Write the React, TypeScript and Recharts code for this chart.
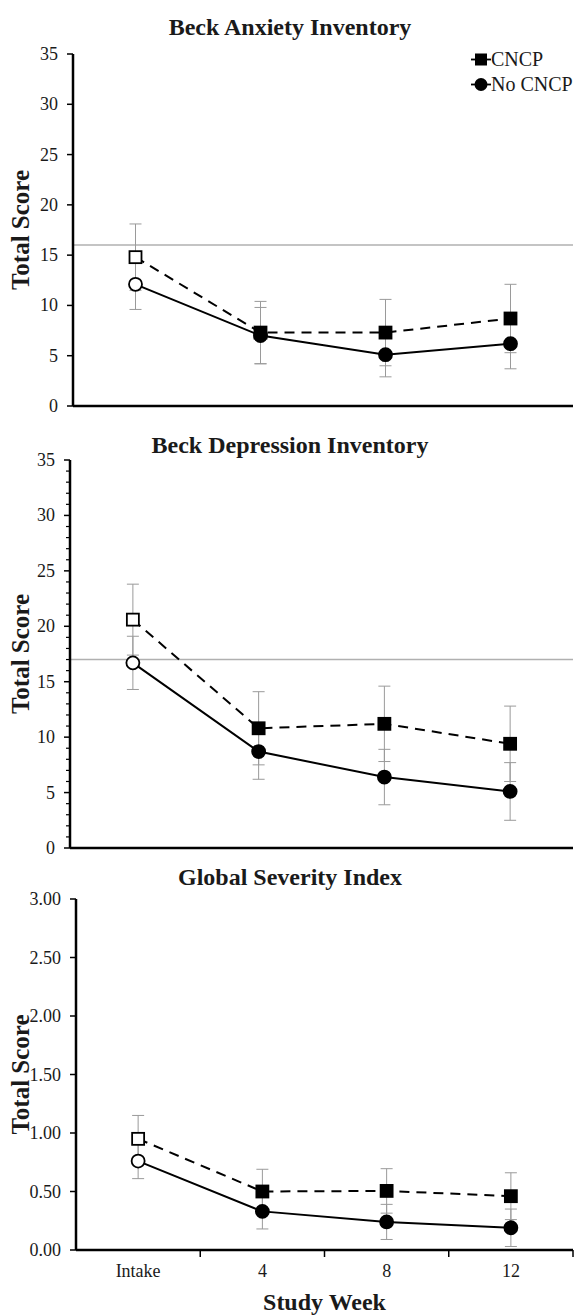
import React from 'react';
import { LineChart, Line, XAxis, YAxis, ErrorBar, ReferenceLine, Legend, Label } from 'recharts';

const FONT = '"Liberation Serif", "Times New Roman", serif';
const TEXT = '#1a1a1a';

const categories = ['Intake', '4', '8', '12'];
const categoryPositions = [0.5, 1.5, 2.5, 3.5];
const xTickValues = [0, 0.5, 1, 1.5, 2, 2.5, 3, 3.5, 4];

// Beck Anxiety Inventory
const baiCncp = [14.8, 7.3, 7.3, 8.7];
const baiCncpErr = [3.3, 3.1, 3.3, 3.4];
const baiNone = [12.1, 7.0, 5.1, 6.2];
const baiNoneErr = [2.5, 2.8, 2.2, 2.5];
const baiTicks = [0, 5, 10, 15, 20, 25, 30, 35];
const baiCutoff = 16;

// Beck Depression Inventory
const bdiCncp = [20.6, 10.8, 11.2, 9.4];
const bdiCncpErr = [3.2, 3.3, 3.4, 3.4];
const bdiNone = [16.7, 8.7, 6.4, 5.1];
const bdiNoneErr = [2.4, 2.5, 2.5, 2.6];
const bdiTicks = [0, 1, 2, 3, 4, 5, 6, 7, 8, 9, 10, 11, 12, 13, 14, 15, 16, 17, 18, 19, 20, 21, 22, 23, 24, 25, 26, 27, 28, 29, 30, 31, 32, 33, 34, 35];
const bdiCutoff = 17;

// Global Severity Index
const gsiCncp = [0.95, 0.5, 0.505, 0.46];
const gsiCncpErr = [0.2, 0.19, 0.19, 0.2];
const gsiNone = [0.76, 0.33, 0.24, 0.19];
const gsiNoneErr = [0.15, 0.15, 0.15, 0.16];
const gsiTicks = [0, 0.5, 1, 1.5, 2, 2.5, 3];

const seriesNames = ['CNCP', 'No CNCP'];

const makeRows = (cncp: number[], cncpErr: number[], none: number[], noneErr: number[]) =>
  categories.map((week, i) => ({
    week,
    pos: categoryPositions[i],
    cncp: cncp[i],
    cncpErr: cncpErr[i],
    none: none[i],
    noneErr: noneErr[i],
  }));

const baiRows = makeRows(baiCncp, baiCncpErr, baiNone, baiNoneErr);
const bdiRows = makeRows(bdiCncp, bdiCncpErr, bdiNone, bdiNoneErr);
const gsiRows = makeRows(gsiCncp, gsiCncpErr, gsiNone, gsiNoneErr);

const SquareDot = (props: any) => {
  const { cx, cy, index } = props;
  if (cx == null || cy == null) return <g key={`sq-${index}`} />;
  const s = 12;
  return (
    <rect
      key={`sq-${index}`}
      x={cx - s / 2}
      y={cy - s / 2}
      width={s}
      height={s}
      fill={index === 0 ? '#fff' : '#000'}
      stroke="#000"
      strokeWidth={1.8}
    />
  );
};

const CircleDot = (props: any) => {
  const { cx, cy, index } = props;
  if (cx == null || cy == null) return <g key={`ci-${index}`} />;
  return (
    <circle
      key={`ci-${index}`}
      cx={cx}
      cy={cy}
      r={6.5}
      fill={index === 0 ? '#fff' : '#000'}
      stroke="#000"
      strokeWidth={1.8}
    />
  );
};

const makeYTick = (majorStep: number, decimals: number) => (props: any) => {
  const { x, y, payload } = props;
  const v = payload.value as number;
  const isMajor = Math.abs(v / majorStep - Math.round(v / majorStep)) < 1e-6;
  return (
    <g>
      <line x1={x - (isMajor ? 6 : 4)} y1={y} x2={x} y2={y} stroke="#000" strokeWidth={isMajor ? 1.5 : 1.2} />
      {isMajor && (
        <text x={x - 15} y={y + 6} textAnchor="end" fontFamily={FONT} fontSize={18} fill={TEXT}>
          {v.toFixed(decimals)}
        </text>
      )}
    </g>
  );
};

const XTick = (props: any) => {
  const { x, y, payload } = props;
  const v = payload.value as number;
  if (Number.isInteger(v)) {
    if (v === 0) return <g />;
    return <line x1={x} y1={y} x2={x} y2={y + 7} stroke="#000" strokeWidth={1.5} />;
  }
  return (
    <text x={x} y={y + 27} textAnchor="middle" fontFamily={FONT} fontSize={18} fill={TEXT}>
      {categories[Math.floor(v)]}
    </text>
  );
};

const LegendContent = () => (
  <div style={{ fontFamily: FONT, fontSize: 20, color: TEXT, lineHeight: '25px' }}>
    {seriesNames.map((name, i) => (
      <div key={name} style={{ display: 'flex', alignItems: 'center', height: 25 }}>
        <svg width={20} height={25} style={{ display: 'block' }}>
          <line x1={0} y1={12.5} x2={20} y2={12.5} stroke="#000" strokeWidth={1.8} />
          {i === 0 ? (
            <rect x={4} y={6.5} width={12} height={12} fill="#000" />
          ) : (
            <circle cx={10} cy={12.5} r={6.5} fill="#000" />
          )}
        </svg>
        <span>{name}</span>
      </div>
    ))}
  </div>
);

type PanelProps = {
  rows: any[];
  top: number;
  height: number;
  marginTop: number;
  yWidth: number;
  xHeight: number;
  yDomain: [number, number];
  yTicks: number[];
  yMajor: number;
  yDecimals: number;
  cutoff?: number;
  bottomAxis?: boolean;
  legend?: boolean;
};

function Panel(p: PanelProps) {
  return (
    <div style={{ position: 'absolute', left: 0, top: p.top, width: 576, height: p.height }}>
      <LineChart
        width={576}
        height={p.height}
        data={p.rows}
        margin={{ top: p.marginTop, right: 3, left: 0, bottom: 0 }}
      >
        <XAxis
          type="number"
          dataKey="pos"
          domain={[0, 4]}
          allowDataOverflow
          ticks={p.bottomAxis ? xTickValues : []}
          interval={0}
          tick={p.bottomAxis ? <XTick /> : false}
          tickLine={false}
          tickSize={0}
          tickMargin={0}
          height={p.xHeight}
          axisLine={{ stroke: '#000', strokeWidth: 2.5 }}
        >
          {p.bottomAxis && (
            <Label
              value="Study Week"
              position="insideBottom"
              offset={6}
              style={{ fontFamily: FONT, fontSize: 24, fontWeight: 'bold', fill: TEXT }}
            />
          )}
        </XAxis>
        <YAxis
          type="number"
          domain={p.yDomain}
          ticks={p.yTicks}
          interval={0}
          width={p.yWidth}
          tick={makeYTick(p.yMajor, p.yDecimals)}
          tickLine={false}
          tickSize={0}
          tickMargin={0}
          axisLine={{ stroke: '#000', strokeWidth: 2.5 }}
        >
          <Label
            value="Total Score"
            angle={-90}
            position="insideLeft"
            offset={20}
            style={{ fontFamily: FONT, fontSize: 25, fontWeight: 'bold', fill: TEXT, textAnchor: 'middle' }}
          />
        </YAxis>
        {p.cutoff != null && (
          <ReferenceLine y={p.cutoff} stroke="#b0b0b0" strokeWidth={1.5} ifOverflow="extendDomain" />
        )}
        {p.legend && (
          <Legend
            layout="vertical"
            align="center"
            verticalAlign="middle"
            content={<LegendContent />}
            wrapperStyle={{ position: 'absolute', top: 47, left: 471, width: 105, height: 50 }}
          />
        )}
        <Line
          dataKey="cncp"
          name={seriesNames[0]}
          stroke="#000"
          strokeWidth={2}
          strokeDasharray="10 7"
          dot={<SquareDot />}
          activeDot={false}
          isAnimationActive={false}
        >
          <ErrorBar dataKey="cncpErr" width={6} strokeWidth={1} stroke="#9a9a9a" direction="y" />
        </Line>
        <Line
          dataKey="none"
          name={seriesNames[1]}
          stroke="#000"
          strokeWidth={2}
          dot={<CircleDot />}
          activeDot={false}
          isAnimationActive={false}
        >
          <ErrorBar dataKey="noneErr" width={6} strokeWidth={1} stroke="#9a9a9a" direction="y" />
        </Line>
      </LineChart>
    </div>
  );
}

const titleStyle = (centerY: number): React.CSSProperties => ({
  position: 'absolute',
  left: 0,
  width: 580,
  top: centerY - 15,
  height: 30,
  lineHeight: '30px',
  textAlign: 'center',
  fontFamily: FONT,
  fontWeight: 'bold',
  fontSize: 24,
  color: TEXT,
});

export default function App() {
  return (
    <div style={{ position: 'absolute', left: 0, top: 0, width: 576, height: 1316, background: '#fff', overflow: 'hidden' }}>
      <Panel
        rows={baiRows}
        top={0}
        height={420}
        marginTop={54}
        yWidth={73}
        xHeight={14}
        yDomain={[0, 35]}
        yTicks={baiTicks}
        yMajor={5}
        yDecimals={0}
        cutoff={baiCutoff}
        legend
      />
      <Panel
        rows={bdiRows}
        top={420}
        height={440}
        marginTop={40}
        yWidth={70}
        xHeight={12}
        yDomain={[0, 35]}
        yTicks={bdiTicks}
        yMajor={5}
        yDecimals={0}
        cutoff={bdiCutoff}
      />
      <Panel
        rows={gsiRows}
        top={860}
        height={456}
        marginTop={39}
        yWidth={76}
        xHeight={66}
        yDomain={[0, 3]}
        yTicks={gsiTicks}
        yMajor={0.5}
        yDecimals={2}
        bottomAxis
      />
      <div style={titleStyle(27)}>Beck Anxiety Inventory</div>
      <div style={titleStyle(445)}>Beck Depression Inventory</div>
      <div style={titleStyle(877)}>Global Severity Index</div>
    </div>
  );
}
